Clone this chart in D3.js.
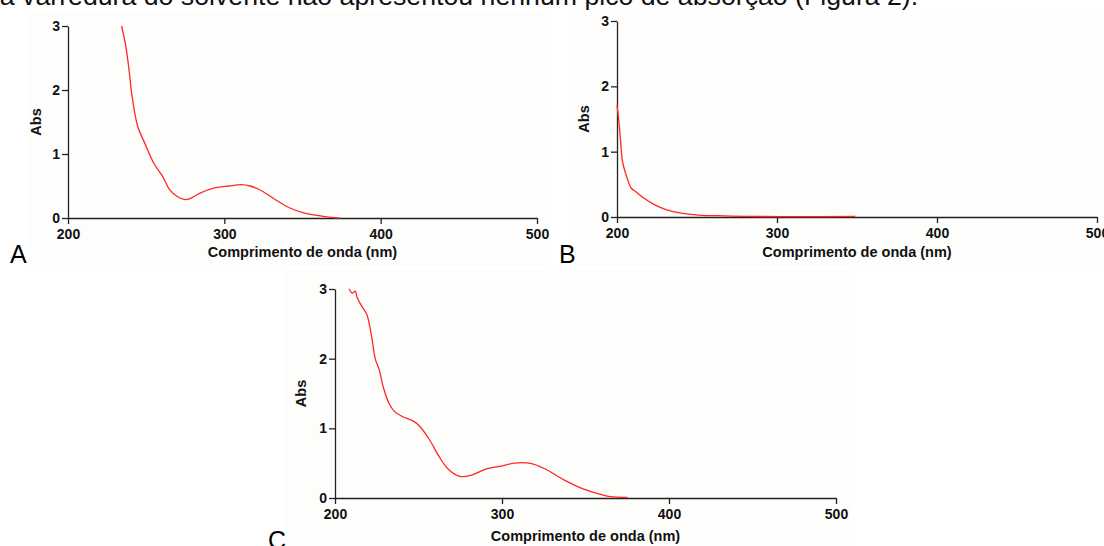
<!DOCTYPE html>
<html>
<head>
<meta charset="utf-8">
<script src="https://cdn.jsdelivr.net/npm/d3@7"></script>
<style>
  body { margin: 0; background: #fff; }
  svg { display: block; font-family: Arial, "Liberation Sans", sans-serif; }
  .tick text { font-weight: bold; font-size: 14px; fill: #111; }
  .tick line, .domain { stroke: #222; stroke-width: 1.3; }
</style>
</head>
<body>
<script>
// spectra (wavelength nm, absorbance)
var wlA = [234.3, 237, 239.3, 240.7, 244.6, 249.1, 254.8, 260.5, 265.1, 269.7, 274.3, 277.7,
           284.5, 293.7, 302.8, 310.8, 316.5, 323.4, 332.5, 341.6, 350.8, 362.2, 373.6];
var absA = [3.0, 2.68, 2.26, 1.95, 1.43, 1.17, 0.86, 0.65, 0.44, 0.34, 0.29, 0.30,
            0.39, 0.47, 0.50, 0.52, 0.50, 0.43, 0.29, 0.16, 0.08, 0.03, 0.0];

var wlB = [200, 201.1, 202.2, 203.3, 204.4, 206.7, 208.9, 212.2, 216.7, 223.3, 231.1, 240,
           251.1, 262.2, 280, 313.3, 348.9];
var absB = [1.71, 1.48, 1.18, 0.87, 0.75, 0.57, 0.44, 0.38, 0.29, 0.19, 0.11, 0.06,
            0.03, 0.02, 0.01, 0.005, 0.01];

var wlC = [208.5, 210.4, 212.2, 213.1, 216.1, 219.1, 221.9, 224.2, 226.5, 228.8, 232.3, 235.7,
           240.3, 247.2, 250.7, 256.5, 262.2, 268.0, 274.9, 281.8, 291.0, 300.2, 307.1, 316.4,
           325.6, 337.1, 348.6, 357.8, 364.7, 375.1];
var absC = [3.0, 2.94, 2.97, 2.89, 2.75, 2.63, 2.32, 1.99, 1.84, 1.60, 1.36, 1.24,
            1.17, 1.10, 1.03, 0.84, 0.60, 0.41, 0.31, 0.33, 0.42, 0.46, 0.50, 0.50,
            0.42, 0.26, 0.13, 0.06, 0.02, 0.01];

var xTicks = [200, 300, 400, 500];
var yTicks = [0, 1, 2, 3];
var xTitle = "Comprimento de onda (nm)";
var yTitle = "Abs";
var sentence = "da varredura do solvente não apresentou nenhum pico de absorção (Figura 2).";

var W = 1104, H = 546;

var svg = d3.select("body").append("svg")
  .attr("width", W)
  .attr("height", H);

// cut-off line of text from the page above the figure
svg.append("text")
  .attr("x", -15)
  .attr("y", 4.5)
  .style("font-size", "26.7px")
  .style("fill", "#111")
  .text(sentence);

var panels = [
  { name: "A", wl: wlA, abs: absA, left: 68, right: 537, top: 26, bottom: 218,
    bg: [27, 13, 523, 253], titleY: 257, yOff: 27, letter: [10, 263] },
  { name: "B", wl: wlB, abs: absB, left: 617, right: 1097, top: 21, bottom: 217,
    bg: [575, 15, 529, 251], titleY: 257, yOff: 28, letter: [559, 263] },
  { name: "C", wl: wlC, abs: absC, left: 335, right: 836, top: 289, bottom: 498,
    bg: [285, 270, 565, 276], titleY: 541, yOff: 29, letter: [268, 549] }
];

panels.forEach(function(p) {
  var g = svg.append("g");

  g.append("rect")
    .attr("x", p.bg[0]).attr("y", p.bg[1])
    .attr("width", p.bg[2]).attr("height", p.bg[3])
    .attr("fill", "#fdfdfb");

  var x = d3.scaleLinear().domain([200, 500]).range([p.left, p.right]);
  var y = d3.scaleLinear().domain([0, 3]).range([p.bottom, p.top]);

  g.append("g")
    .attr("transform", "translate(0," + p.bottom + ")")
    .call(d3.axisBottom(x).tickValues(xTicks).tickFormat(d3.format("d"))
      .tickSize(6).tickSizeOuter(0).tickPadding(5));

  g.append("g")
    .attr("transform", "translate(" + p.left + ",0)")
    .call(d3.axisLeft(y).tickValues(yTicks).tickFormat(d3.format("d"))
      .tickSize(6).tickSizeOuter(0).tickPadding(2));

  var pts = p.wl.map(function(w, i) { return [w, p.abs[i]]; });

  var line = d3.line()
    .x(function(d) { return x(d[0]); })
    .y(function(d) { return y(d[1]); })
    .curve(d3.curveCatmullRom.alpha(0.5));

  g.append("path")
    .datum(pts)
    .attr("d", line)
    .attr("fill", "none")
    .attr("stroke", "#ff2626")
    .attr("stroke-width", 1.3);

  g.append("text")
    .attr("x", (p.left + p.right) / 2)
    .attr("y", p.titleY)
    .attr("text-anchor", "middle")
    .style("font-weight", "bold")
    .style("font-size", "14.5px")
    .style("fill", "#111")
    .text(xTitle);

  g.append("text")
    .attr("transform", "translate(" + (p.left - p.yOff) + "," + ((p.top + p.bottom) / 2) + ") rotate(-90)")
    .attr("text-anchor", "middle")
    .style("font-weight", "bold")
    .style("font-size", "14.5px")
    .style("fill", "#111")
    .text(yTitle);

  g.append("text")
    .attr("x", p.letter[0])
    .attr("y", p.letter[1])
    .style("font-size", "25px")
    .style("fill", "#000")
    .text(p.name);
});
</script>
</body>
</html>
